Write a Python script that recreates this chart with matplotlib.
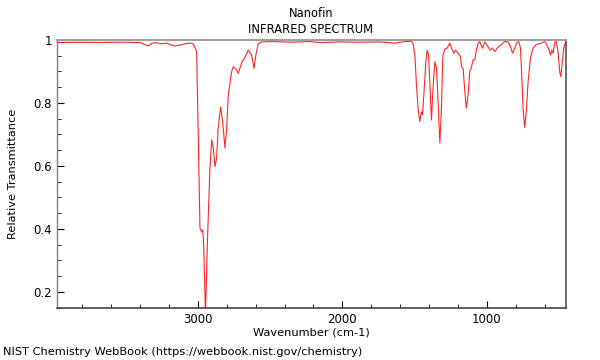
import matplotlib
matplotlib.use('Agg')
import matplotlib.pyplot as plt
from matplotlib.ticker import MultipleLocator, FuncFormatter

# wavenumber (cm-1) / relative transmittance
wavenumber = [3976, 3817, 3678, 3540, 3401, 3344, 3320, 3286, 3251, 3217,
              3194, 3159, 3125, 3090, 3055, 3033, 3009, 2998, 2986, 2974,
              2967, 2961, 2948, 2933, 2917, 2905, 2894, 2882, 2871, 2860,
              2843, 2829, 2813, 2801, 2790, 2767, 2756, 2732, 2721, 2698,
              2682, 2668, 2652, 2628, 2612, 2599, 2583, 2559, 2481, 2363,
              2225, 2156, 2017, 1879, 1741, 1637, 1568, 1521, 1510, 1498,
              1487, 1476, 1464, 1452, 1445, 1436, 1422, 1413, 1403, 1394,
              1383, 1372, 1360, 1348, 1337, 1325, 1314, 1307, 1303, 1291,
              1275, 1256, 1244, 1228, 1215, 1199, 1182, 1175, 1164, 1152,
              1141, 1130, 1118, 1106, 1095, 1083, 1076, 1060, 1049, 1030,
              1014, 998, 979, 961, 945, 929, 910, 876, 853, 836,
              822, 806, 790, 777, 767, 758, 749, 737, 725, 714,
              698, 680, 656, 622, 599, 583, 569, 559, 550, 541,
              529, 518, 507, 495, 488, 479, 467, 458, 453]
transmittance = [0.992, 0.993, 0.992, 0.993, 0.992, 0.981, 0.990, 0.991, 0.988, 0.990,
                 0.985, 0.981, 0.984, 0.988, 0.990, 0.988, 0.963, 0.698, 0.403, 0.390,
                 0.397, 0.359, 0.130, 0.381, 0.594, 0.683, 0.657, 0.598, 0.625, 0.721,
                 0.788, 0.741, 0.657, 0.721, 0.825, 0.899, 0.915, 0.905, 0.894, 0.927,
                 0.941, 0.952, 0.968, 0.952, 0.910, 0.952, 0.988, 0.994, 0.995, 0.993,
                 0.995, 0.992, 0.994, 0.993, 0.994, 0.990, 0.995, 0.996, 0.988, 0.952,
                 0.857, 0.784, 0.741, 0.772, 0.762, 0.825, 0.931, 0.968, 0.952, 0.857,
                 0.746, 0.848, 0.931, 0.910, 0.804, 0.673, 0.784, 0.910, 0.952, 0.971,
                 0.974, 0.990, 0.974, 0.958, 0.968, 0.958, 0.947, 0.915, 0.910, 0.836,
                 0.783, 0.825, 0.899, 0.915, 0.937, 0.937, 0.958, 0.990, 0.995, 0.974,
                 0.994, 0.984, 0.968, 0.974, 0.963, 0.974, 0.982, 0.995, 0.994, 0.979,
                 0.958, 0.974, 0.994, 0.994, 0.974, 0.889, 0.783, 0.722, 0.783, 0.868,
                 0.942, 0.974, 0.986, 0.990, 0.995, 0.984, 0.968, 0.952, 0.968, 0.958,
                 0.994, 0.995, 0.963, 0.899, 0.884, 0.921, 0.974, 0.990, 0.994]

fig = plt.figure(figsize=(6, 3.6), dpi=100)
ax = fig.add_axes([0.095, 0.1444, 0.848, 0.7445])

ax.plot(wavenumber, transmittance, color='red', lw=0.8, alpha=0.85, zorder=3)

ax.set_xlim(3976, 453)
ax.set_ylim(0.149, 1.0)
ax.xaxis.set_major_locator(MultipleLocator(1000))
ax.xaxis.set_minor_locator(MultipleLocator(200))
ax.yaxis.set_major_locator(MultipleLocator(0.2))
ax.yaxis.set_minor_locator(MultipleLocator(0.05))
ax.yaxis.set_major_formatter(FuncFormatter(lambda v, p: '%g' % round(v, 2)))
ax.tick_params(which='both', direction='in', labelsize=8.5, top=False, right=False)
ax.tick_params(which='major', length=5)
ax.tick_params(which='minor', length=3)

ax.spines['top'].set_color('#a0a0a0')
ax.spines['top'].set_linewidth(1.5)
ax.spines['left'].set_color('#808080')
ax.spines['left'].set_linewidth(1)
ax.spines['right'].set_color('#555555')
ax.spines['right'].set_linewidth(1.2)
ax.spines['bottom'].set_color('#444444')
ax.spines['bottom'].set_linewidth(1.2)

ax.set_xlabel('Wavenumber (cm-1)', fontsize=8.2, labelpad=1)
ax.set_ylabel('Relative Transmittance', fontsize=8.2)
ax.yaxis.set_label_coords(-0.077, 0.5)
fig.text(0.518, 0.963, 'Nanofin', ha='center', va='center', fontsize=8.3)
fig.text(0.518, 0.918, 'INFRARED SPECTRUM', ha='center', va='center', fontsize=8.3)
fig.text(0.005, 0.022, 'NIST Chemistry WebBook (https://webbook.nist.gov/chemistry)',
         ha='left', va='center', fontsize=8.2)

fig.savefig('out.png', dpi=100)
